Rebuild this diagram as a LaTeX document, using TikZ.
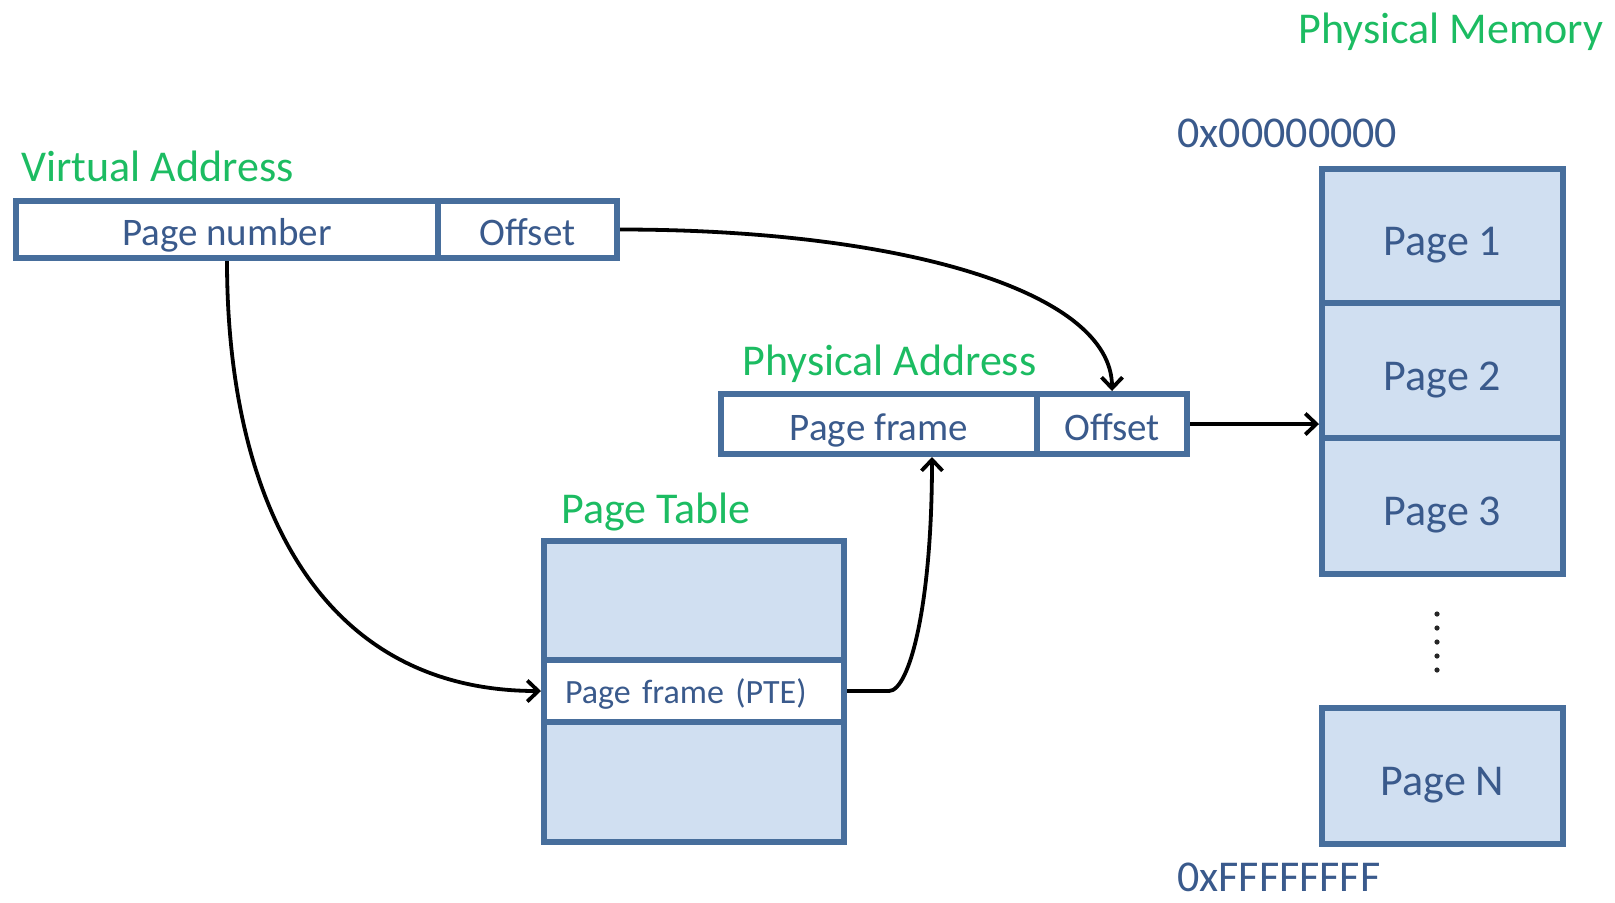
\documentclass[tikz,border=0pt]{standalone}
\usepackage{fontspec}
\setmainfont{Carlito}
\usetikzlibrary{arrows.meta}

\definecolor{cellborder}{RGB}{71,110,156}
\definecolor{cellfill}{RGB}{208,223,241}
\definecolor{celltext}{RGB}{58,90,140}
\definecolor{titlegreen}{RGB}{28,188,98}

\begin{document}
\begin{tikzpicture}[x=0.5pt,y=0.5pt,
  cell/.style={draw=cellborder, line width=3pt, fill=cellfill, inner sep=0pt,
    text=celltext, font=\fontsize{22pt}{26pt}\selectfont,
    text height=19.5pt, text depth=0pt},
  white cell/.style={cell, fill=white, font=\fontsize{19.5pt}{23pt}\selectfont,
    text height=16.4pt},
  title/.style={anchor=base west, inner sep=0pt, text=titlegreen,
    font=\fontsize{22pt}{26pt}\selectfont},
  bound/.style={anchor=base west, inner sep=0pt, text=celltext,
    font=\fontsize{22pt}{26pt}\selectfont},
  link/.style={draw=black, line width=1.9pt,
    -{Straight Barb[length=5.5pt,width=10.5pt]}}
]
\useasboundingbox (0,0) rectangle (1615,-902);

% virtual address
\node[title] (vatitle) at (21,-181) {Virtual Address};
\node[white cell, minimum width=211pt, minimum height=28.5pt] (vapn) at (227,-229.5) {Page number};
\node[white cell, minimum width=89.5pt, minimum height=28.5pt] (vaoff) at (527.5,-229.5) {Offset};

% physical address
\node[title] (patitle) at (742,-375) {Physical Address};
\node[white cell, minimum width=158pt, minimum height=30pt] (pafr) at (879,-424) {Page frame};
\node[white cell, minimum width=75pt, minimum height=30pt] (paoff) at (1112,-424) {Offset};

% page table
\node[title] (pttitle) at (561,-523) {Page Table};
\node[cell, minimum width=150pt, minimum height=59.5pt] (pt1) at (694,-600.5) {};
\node[white cell, font=\fontsize{17pt}{20pt}\selectfont, text height=12.4pt,
  text width=129pt, inner xsep=10.5pt, align=left, minimum height=31pt] (pte) at (694,-691) {Page frame (PTE)};
\node[cell, minimum width=150pt, minimum height=60pt] (pt3) at (694,-782) {};

% physical memory
\node[title] (pmtitle) at (1298,-43) {Physical Memory};
\node[bound] (lowaddr) at (1177,-147) {0x00000000};
\node[cell, minimum width=120.5pt, minimum height=67pt] (m1) at (1442.5,-236) {Page 1};
\node[cell, minimum width=120.5pt, minimum height=67.5pt] (m2) at (1442.5,-370.5) {Page 2};
\node[cell, minimum width=120.5pt, minimum height=68pt] (m3) at (1442.5,-506) {Page 3};
\node[cell, minimum width=120.5pt, minimum height=68pt] (mN) at (1442.5,-776) {Page N};
\node[bound] (highaddr) at (1177,-891) {0xFFFFFFFF};

% vertical ellipsis between the pages
\foreach \y in {614,628,642,656,670}
  \fill[black!85] (1437,-\y) circle (1.3pt);

% connectors
\draw[link] (vapn.south) .. controls +(0,-235) and +(-225,0) .. (pte.west);
\draw[link] (vaoff.east) .. controls +(280,0) and +(0,100) .. (paoff.north);
\draw[link] (pte.east) -- ++(42,0)
  .. controls +(20,0) and +(0,-150) .. ([xshift=26.5pt]pafr.south);
\draw[link] (paoff.east) -- (paoff.east -| m2.west);
\end{tikzpicture}
\end{document}
